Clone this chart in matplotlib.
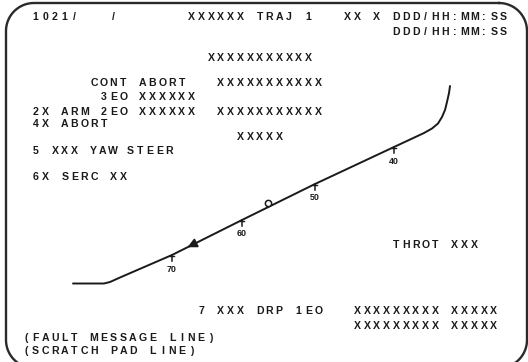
import numpy as np
import matplotlib.pyplot as plt

# screen text rows: (y, column, text)
rows = [
    (17, 0, "1021/"),
    (17, 8, "/"),
    (17, 16, "XXXXXX TRAJ 1"),
    (17, 32, "XX X DDD/HH:MM:SS"),
    (32, 37, "DDD/HH:MM:SS"),
    (58, 18, "XXXXXXXXXXX"),
    (83, 6, "CONT ABORT"),
    (83, 19, "XXXXXXXXXXX"),
    (97, 7, "3EO XXXXXX"),
    (112, 0, "2X ARM 2EO XXXXXX"),
    (112, 19, "XXXXXXXXXXX"),
    (124, 0, "4X ABORT"),
    (137, 21, "XXXXX"),
    (151, 0, "5 XXX"),
    (151, 5.9, "YAW"),
    (151, 9.7, "STEER"),
    (177, 0, "6X SERC XX"),
    (245, 37, "THROT XXX"),
    (311, 17, "7 XXX DRP 1EO"),
    (311, 33, "XXXXXXXXX XXXXX"),
    (326, 33, "XXXXXXXXX XXXXX"),
    (338, -1, "(FAULT MESSAGE LINE)"),
    (351, -1, "(SCRATCH PAD LINE)"),
]

# trajectory line
traj_x = [73, 90, 104, 110, 120, 172, 242, 315, 394, 424, 432, 438, 442, 445, 447, 449, 450]
traj_y = [283.5, 283.5, 283.5, 282, 277.5, 255, 220, 184, 147, 133, 128.5, 123.5, 117, 110, 102, 93, 86]

tick_x = [394, 315, 242, 172]
tick_labels = ['40', '50', '60', '70']

circle_x = 268
arrow_x = [198, 185]

W, H = 528, 362
fig = plt.figure(figsize=(W / 100, H / 100), dpi=100)
ax = fig.add_axes([0, 0, 1, 1])
ax.set_xlim(0, W)
ax.set_ylim(H, 0)
ax.axis('off')

ink = '#1a1a1a'
font = ['Liberation Sans', 'DejaVu Sans']

# screen frame, rounded corners, bottom edge just off the picture
left, right, top, bottom, r = 6, 527, 3, 368, 28


def arc(cx, cy, a0, a1):
    a = np.radians(np.linspace(a0, a1, 20))
    return cx + r * np.cos(a), cy - r * np.sin(a)


parts = [arc(right - r, top + r, 90, 0), arc(right - r, bottom - r, 0, -90),
         arc(left + r, bottom - r, -90, -180), arc(left + r, top + r, 180, 90)]
fx = np.concatenate([p[0] for p in parts] + [[right - r]])
fy = np.concatenate([p[1] for p in parts] + [[top]])
ax.plot(fx, fy, color='#2a2a2a', lw=1.7)

pitch = 9.75
x0 = 32
for y, col, txt in rows:
    for i, ch in enumerate(txt):
        if ch == ' ':
            continue
        ax.text(x0 + (col + i) * pitch + 3.5, y, ch, ha='center', va='center',
                fontsize=7.6, fontweight='bold', family=font, color=ink)

# trajectory
ax.plot(traj_x, traj_y, color=ink, lw=1.4, solid_capstyle='round')

# time ticks along the line
for tx, lab in zip(tick_x, tick_labels):
    ty = np.interp(tx, traj_x, traj_y)
    ax.plot([tx, tx], [ty, ty + 6], color=ink, lw=1.1)
    ax.plot([tx - 2, tx + 2], [ty + 1, ty + 1], color=ink, lw=1.0)
    ax.text(tx, ty + 14, lab, ha='center', va='center', fontsize=6.4,
            fontweight='bold', family=font, color=ink)

# current state circle
cy = np.interp(circle_x, traj_x, traj_y)
ax.plot(circle_x, cy - 4, marker='o', ms=4.5, mfc='white', mec=ink, mew=1.1)

# direction arrow
ay = np.interp(arrow_x, traj_x, traj_y)
ax.annotate('', xy=(arrow_x[1], ay[1]), xytext=(arrow_x[0], ay[0]),
            arrowprops=dict(arrowstyle='-|>', mutation_scale=14, color=ink, lw=1.2))

fig.savefig('out.png', dpi=100)
